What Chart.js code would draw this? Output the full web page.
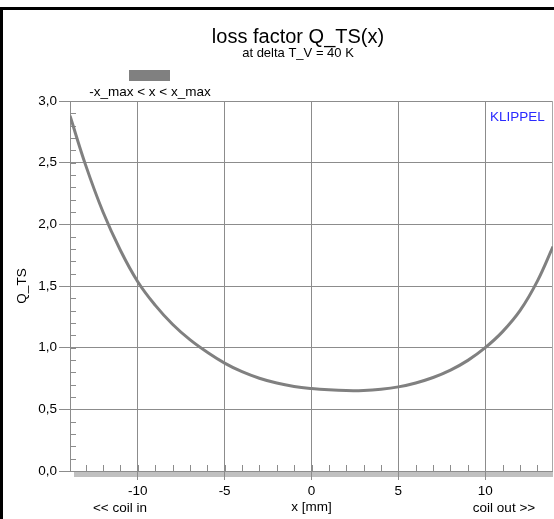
<!DOCTYPE html>
<html>
<head>
<meta charset="utf-8">
<script src="https://cdn.jsdelivr.net/npm/chart.js@4/dist/chart.umd.min.js"></script>
<style>
html, body { margin: 0; padding: 0; background: #fff; }
</style>
</head>
<body>
<canvas id="chart" width="554" height="519"></canvas>
<script>
// excursion x in mm and loss factor
const xPos = [-13.9, -13, -12, -11, -10, -9, -8, -7, -6, -5, -4, -3, -2, -1, 0,
              1, 2, 3, 4, 5, 6, 7, 8, 9, 10, 11, 12, 13, 13.9];
const qts = [2.88, 2.48, 2.10, 1.79, 1.535, 1.345, 1.19, 1.065, 0.963, 0.875, 0.805, 0.752, 0.713, 0.686, 0.669,
             0.658, 0.652, 0.653, 0.663, 0.682, 0.714, 0.758, 0.818, 0.897, 1.0, 1.13, 1.30, 1.54, 1.82];
const xTicks = [-10, -5, 0, 5, 10];
const xRange = [-13.9, 13.9];
const yRange = [0, 3];
const seriesLabel = '-x_max < x < x_max';
const chartTitle = 'loss factor Q_TS(x)';
const chartSubtitle = 'at delta T_V = 40 K';

const FONT = 'Liberation Sans, Arial, sans-serif';
Chart.defaults.font.family = FONT;
Chart.defaults.color = '#000';

const decor = {
    id: 'decor',
    beforeDraw(chart) {
        const ctx = chart.ctx;
        const a = chart.chartArea;
        ctx.save();
        ctx.fillStyle = '#fff';
        ctx.fillRect(0, 0, chart.width, chart.height);
        // grey band under the x axis
        ctx.fillStyle = '#c0c0c0';
        ctx.fillRect(74, a.bottom, a.right - 74, 6);
        ctx.restore();
    },
    beforeDatasetsDraw(chart) {
        const ctx = chart.ctx;
        const a = chart.chartArea;
        const xs = chart.scales.x, ys = chart.scales.y;
        ctx.save();
        ctx.strokeStyle = '#8c8c8c';
        ctx.lineWidth = 1;
        ctx.beginPath();
        for (let v = -13; v <= 13; v++) {
            const px = Math.round(xs.getPixelForValue(v)) + 0.5;
            ctx.moveTo(px, a.bottom);
            ctx.lineTo(px, a.bottom - 6);
        }
        for (let i = 1; i < 30; i++) {
            const py = Math.round(ys.getPixelForValue(i / 10)) + 0.5;
            ctx.moveTo(a.left, py);
            ctx.lineTo(a.left + 6, py);
        }
        ctx.stroke();
        // right edge of the plot frame
        ctx.strokeStyle = '#a8a8a8';
        ctx.beginPath();
        ctx.moveTo(a.right - 0.5, a.top);
        ctx.lineTo(a.right - 0.5, a.bottom);
        ctx.stroke();
        ctx.restore();
    },
    afterDraw(chart) {
        const ctx = chart.ctx;
        ctx.save();
        // window frame
        ctx.fillStyle = '#000';
        ctx.fillRect(0, 7, chart.width, 3);
        ctx.fillRect(0, 7, 3, chart.height - 7);

        ctx.textAlign = 'center';
        ctx.textBaseline = 'middle';
        ctx.font = '20px ' + FONT;
        ctx.fillText(chartTitle, 298, 37);
        ctx.font = '13px ' + FONT;
        ctx.fillText(chartSubtitle, 298, 53);

        // legend
        ctx.fillStyle = '#808080';
        ctx.fillRect(129, 70, 41, 11);
        ctx.fillStyle = '#000';
        ctx.font = '13.5px ' + FONT;
        ctx.fillText(seriesLabel, 150, 92);

        ctx.fillText('<< coil in', 120, 508);
        ctx.fillText('coil out >>', 504, 508);

        ctx.fillStyle = '#2a2aff';
        ctx.textAlign = 'left';
        ctx.fillText('KLIPPEL', 490, 117);
        ctx.restore();
    }
};

const ctx = document.getElementById('chart').getContext('2d');
const myChart = new Chart(ctx, {
    type: 'line',
    data: {
        datasets: [{
            label: seriesLabel,
            data: xPos.map((x, i) => ({ x: x, y: qts[i] })),
            borderColor: '#808080',
            borderWidth: 3,
            pointRadius: 0,
            fill: false,
            tension: 0.4
        }]
    },
    options: {
        responsive: false,
        animation: false,
        devicePixelRatio: 1,
        layout: { padding: { top: 101, left: 0, right: 1, bottom: 0 } },
        plugins: {
            legend: { display: false },
            title: { display: false },
            tooltip: { enabled: false }
        },
        scales: {
            x: {
                type: 'linear',
                min: xRange[0],
                max: xRange[1],
                afterBuildTicks: s => { s.ticks = xTicks.map(v => ({ value: v })); },
                afterFit: s => { s.height = 48; },
                ticks: {
                    font: { size: 13.5 },
                    padding: 3,
                    maxRotation: 0,
                    autoSkip: false
                },
                grid: { color: '#8c8c8c', tickLength: 9 },
                border: { display: false },
                title: {
                    display: true,
                    text: 'x [mm]',
                    font: { size: 13.5 },
                    padding: { top: 0, bottom: 4 }
                }
            },
            y: {
                min: yRange[0],
                max: yRange[1],
                afterFit: s => { s.width = 70; },
                ticks: {
                    stepSize: 0.5,
                    font: { size: 13.5 },
                    padding: 2,
                    callback: v => v.toFixed(1).replace('.', ',')
                },
                grid: { color: '#8c8c8c', tickLength: 11 },
                border: { display: true, color: '#8c8c8c' },
                title: {
                    display: true,
                    text: 'Q_TS',
                    font: { size: 13.5 },
                    padding: { top: 14, bottom: 0 }
                }
            }
        }
    },
    plugins: [decor]
});
</script>
</body>
</html>
